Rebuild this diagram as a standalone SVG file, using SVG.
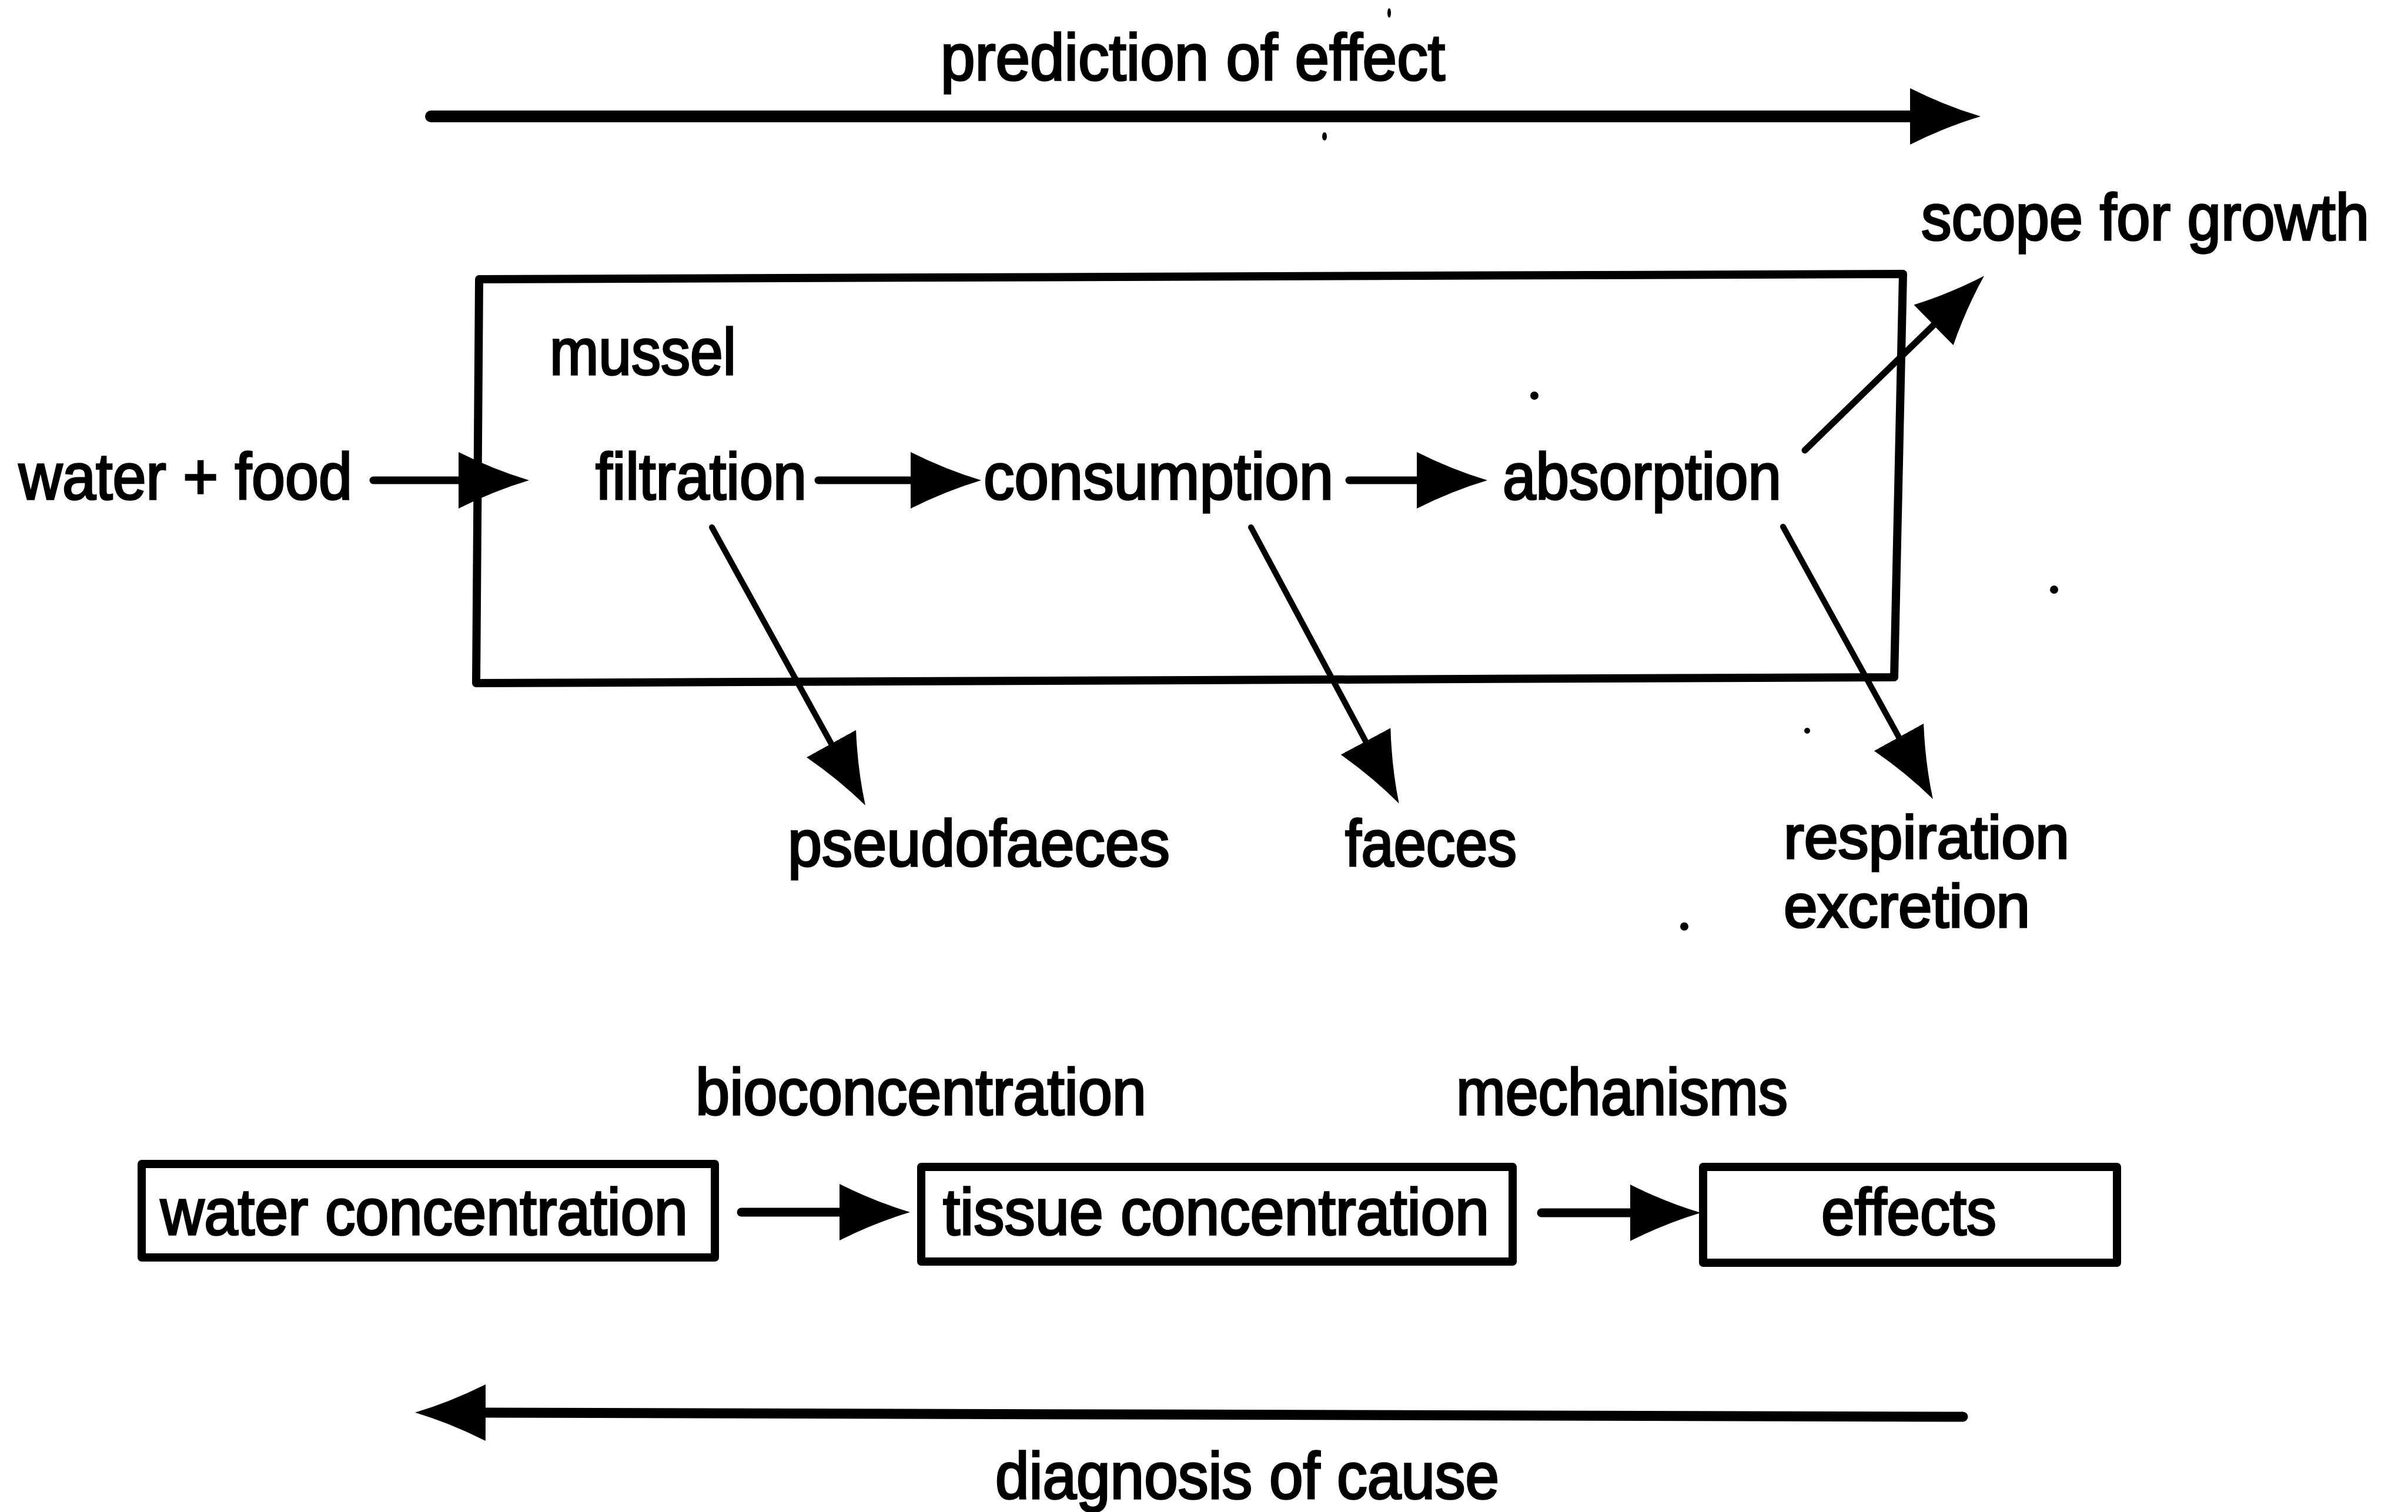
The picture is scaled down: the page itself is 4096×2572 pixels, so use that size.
<svg xmlns="http://www.w3.org/2000/svg" width="4096" height="2572" viewBox="0 0 4096 2572">
<style>
.t{font-family:"Liberation Sans",Arial,Helvetica,sans-serif;font-size:112px;fill:#000;stroke:#000;stroke-width:3.5px;}
.s{font-size:103px;}
.bx{fill:none;stroke:#000;stroke-width:14;stroke-linejoin:round;}
.ln{fill:none;stroke:#000;stroke-linecap:round;}
</style>
<defs>
<marker id="ah" markerUnits="userSpaceOnUse" viewBox="0 -50 122 100" refX="0" refY="0" markerWidth="122" markerHeight="100" orient="auto">
<path d="M0,-48 Q60,-18 120,0 Q60,18 0,48 Z" fill="#000"/>
</marker>
</defs>
<rect width="4096" height="2572" fill="#fff"/>

<g id="connectors">
<line class="ln" x1="733" y1="198" x2="3249" y2="198" stroke-width="20" marker-end="url(#ah)"/>
<line class="ln" x1="3339" y1="2410" x2="826" y2="2403" stroke-width="17" marker-end="url(#ah)"/>
<line class="ln" x1="635" y1="817" x2="780" y2="817" stroke-width="13" marker-end="url(#ah)"/>
<line class="ln" x1="1392" y1="817" x2="1549" y2="817" stroke-width="13" marker-end="url(#ah)"/>
<line class="ln" x1="2295" y1="817" x2="2410" y2="817" stroke-width="13" marker-end="url(#ah)"/>
<line class="ln" x1="3070" y1="766" x2="3289" y2="553" stroke-width="11" marker-end="url(#ah)"/>
<line class="ln" x1="3033" y1="896" x2="3230" y2="1254" stroke-width="10" marker-end="url(#ah)"/>
<line class="ln" x1="1211" y1="897" x2="1414" y2="1265" stroke-width="10" marker-end="url(#ah)"/>
<line class="ln" x1="2128" y1="897" x2="2323" y2="1261" stroke-width="10" marker-end="url(#ah)"/>
<line class="ln" x1="1261" y1="2062" x2="1428" y2="2062" stroke-width="15" marker-end="url(#ah)"/>
<line class="ln" x1="2622" y1="2063" x2="2773" y2="2063" stroke-width="15" marker-end="url(#ah)"/>
</g>

<g id="mussel">
<polygon class="bx" points="815,475 3237,466 3222,1152 810,1162"/>
<text class="t" x="935" y="637" textLength="317" lengthAdjust="spacingAndGlyphs">mussel</text>
</g>
<g id="prediction"><text class="t" x="1600" y="136" textLength="858" lengthAdjust="spacingAndGlyphs">prediction of effect</text></g>
<g id="water-food"><text class="t" x="32" y="849" textLength="567" lengthAdjust="spacingAndGlyphs">water + food</text></g>
<g id="filtration"><text class="t" x="1013" y="849" textLength="359" lengthAdjust="spacingAndGlyphs">filtration</text></g>
<g id="consumption"><text class="t" x="1673" y="849" textLength="595" lengthAdjust="spacingAndGlyphs">consumption</text></g>
<g id="absorption"><text class="t" x="2556" y="849" textLength="474" lengthAdjust="spacingAndGlyphs">absorption</text></g>
<g id="scope"><text class="t" x="3268" y="408" textLength="762" lengthAdjust="spacingAndGlyphs">scope for growth</text></g>
<g id="pseudofaeces"><text class="t" x="1340" y="1473" textLength="650" lengthAdjust="spacingAndGlyphs">pseudofaeces</text></g>
<g id="faeces"><text class="t" x="2288" y="1473" textLength="292" lengthAdjust="spacingAndGlyphs">faeces</text></g>
<g id="respiration">
<text class="t s" x="3034" y="1460" textLength="486" lengthAdjust="spacingAndGlyphs">respiration</text>
<text class="t s" x="3034" y="1577" textLength="419" lengthAdjust="spacingAndGlyphs">excretion</text>
</g>
<g id="bioconcentration"><text class="t" x="1183" y="1896" textLength="767" lengthAdjust="spacingAndGlyphs">bioconcentration</text></g>
<g id="mechanisms"><text class="t" x="2477" y="1896" textLength="564" lengthAdjust="spacingAndGlyphs">mechanisms</text></g>
<g id="water-concentration">
<rect class="bx" x="241" y="1980" width="975" height="159"/>
<text class="t" x="273" y="2100" textLength="897" lengthAdjust="spacingAndGlyphs">water concentration</text>
</g>
<g id="tissue-concentration">
<rect class="bx" x="1567" y="1985" width="1006" height="161"/>
<text class="t" x="1604" y="2100" textLength="929" lengthAdjust="spacingAndGlyphs">tissue concentration</text>
</g>
<g id="effects">
<rect class="bx" x="2897" y="1985" width="704" height="163"/>
<text class="t" x="3098" y="2100" textLength="298" lengthAdjust="spacingAndGlyphs">effects</text>
</g>
<g id="diagnosis"><text class="t" x="1693" y="2549" textLength="857" lengthAdjust="spacingAndGlyphs">diagnosis of cause</text></g>

<g id="specks" fill="#000">
<circle cx="2610" cy="673" r="7"/>
<circle cx="3494" cy="1003" r="7"/>
<circle cx="3074" cy="1243" r="5"/>
<circle cx="2865" cy="1576" r="7"/>
<ellipse cx="2363" cy="22" rx="3" ry="8"/>
<ellipse cx="2253" cy="232" rx="4" ry="7"/>
</g>
</svg>
